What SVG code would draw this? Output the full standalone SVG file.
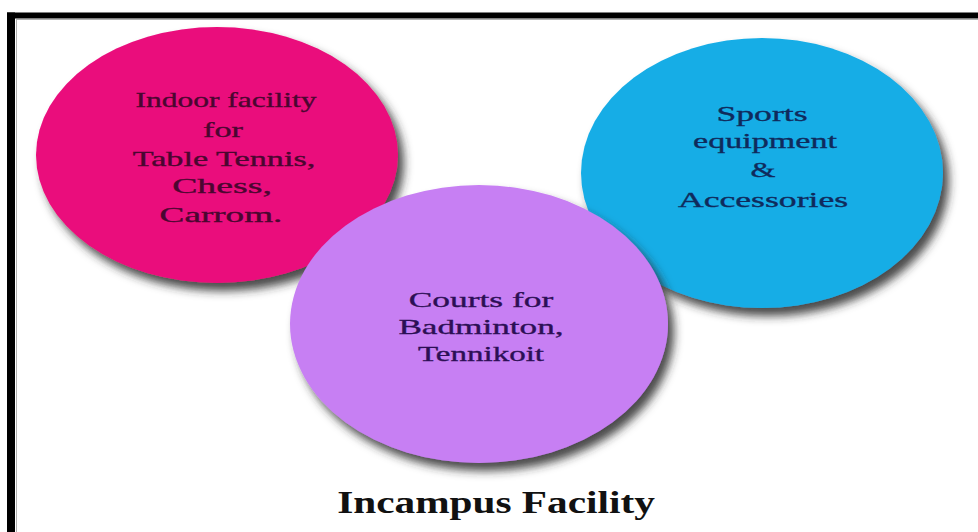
<svg xmlns="http://www.w3.org/2000/svg" width="978" height="532" viewBox="0 0 978 532">
<defs>
<filter id="shadow" x="-20%" y="-20%" width="140%" height="145%">
<feDropShadow dx="6" dy="8" stdDeviation="5" flood-color="#2a2a2a" flood-opacity="0.85"/>
</filter>
<style>
.lbl{font-family:"Liberation Serif","Times New Roman",serif;text-anchor:middle;stroke-width:0.35;}
.pk{font-size:21px;fill:#4a0630;stroke:#4a0630;}
.cy{font-size:22px;fill:#0f2a5c;stroke:#0f2a5c;}
.pu{font-size:22px;fill:#2c0f55;stroke:#2c0f55;}
.title{font-family:"Liberation Serif","Times New Roman",serif;font-weight:bold;font-size:32px;fill:#111;text-anchor:middle;}
</style>
</defs>
<rect x="0" y="0" width="978" height="532" fill="#ffffff"/>
<rect x="7" y="12.5" width="971" height="6" fill="#000"/>
<rect x="7" y="12.5" width="8" height="520" fill="#000"/>
<line x1="16" y1="19.5" x2="978" y2="19.5" stroke="#b0b0b0" stroke-width="1"/>
<line x1="16.5" y1="19" x2="16.5" y2="532" stroke="#b0b0b0" stroke-width="1"/>

<g id="node-indoor">
<ellipse cx="217" cy="155" rx="181" ry="128" fill="#ea0b7c" filter="url(#shadow)"/>
<text class="lbl pk" transform="translate(226,107) scale(1.5,1)">Indoor facility</text>
<text class="lbl pk" transform="translate(223,137) scale(1.63,1)">for</text>
<text class="lbl pk" transform="translate(224,166) scale(1.63,1)">Table Tennis,</text>
<text class="lbl pk" transform="translate(222,193) scale(1.8,1)">Chess,</text>
<text class="lbl pk" transform="translate(221,222) scale(1.77,1)">Carrom.</text>
</g>

<g id="node-equipment">
<ellipse cx="762" cy="173" rx="181" ry="135" fill="#18ade6" filter="url(#shadow)"/>
<text class="lbl cy" transform="translate(762,121) scale(1.62,1)">Sports</text>
<text class="lbl cy" transform="translate(765,148) scale(1.55,1)">equipment</text>
<text class="lbl cy" transform="translate(763,177) scale(1.46,1)">&amp;</text>
<text class="lbl cy" transform="translate(763,207) scale(1.62,1)">Accessories</text>
</g>

<g id="node-courts">
<ellipse cx="479" cy="324" rx="189" ry="139" fill="#c77ff3" filter="url(#shadow)"/>
<text class="lbl pu" transform="translate(481,307) scale(1.61,1)">Courts for</text>
<text class="lbl pu" transform="translate(481,334) scale(1.6,1)">Badminton,</text>
<text class="lbl pu" transform="translate(481,361) scale(1.5,1)">Tennikoit</text>
</g>

<g id="connectors"></g>

<text class="title" transform="translate(496,513) scale(1.29,1)">Incampus Facility</text>
</svg>
